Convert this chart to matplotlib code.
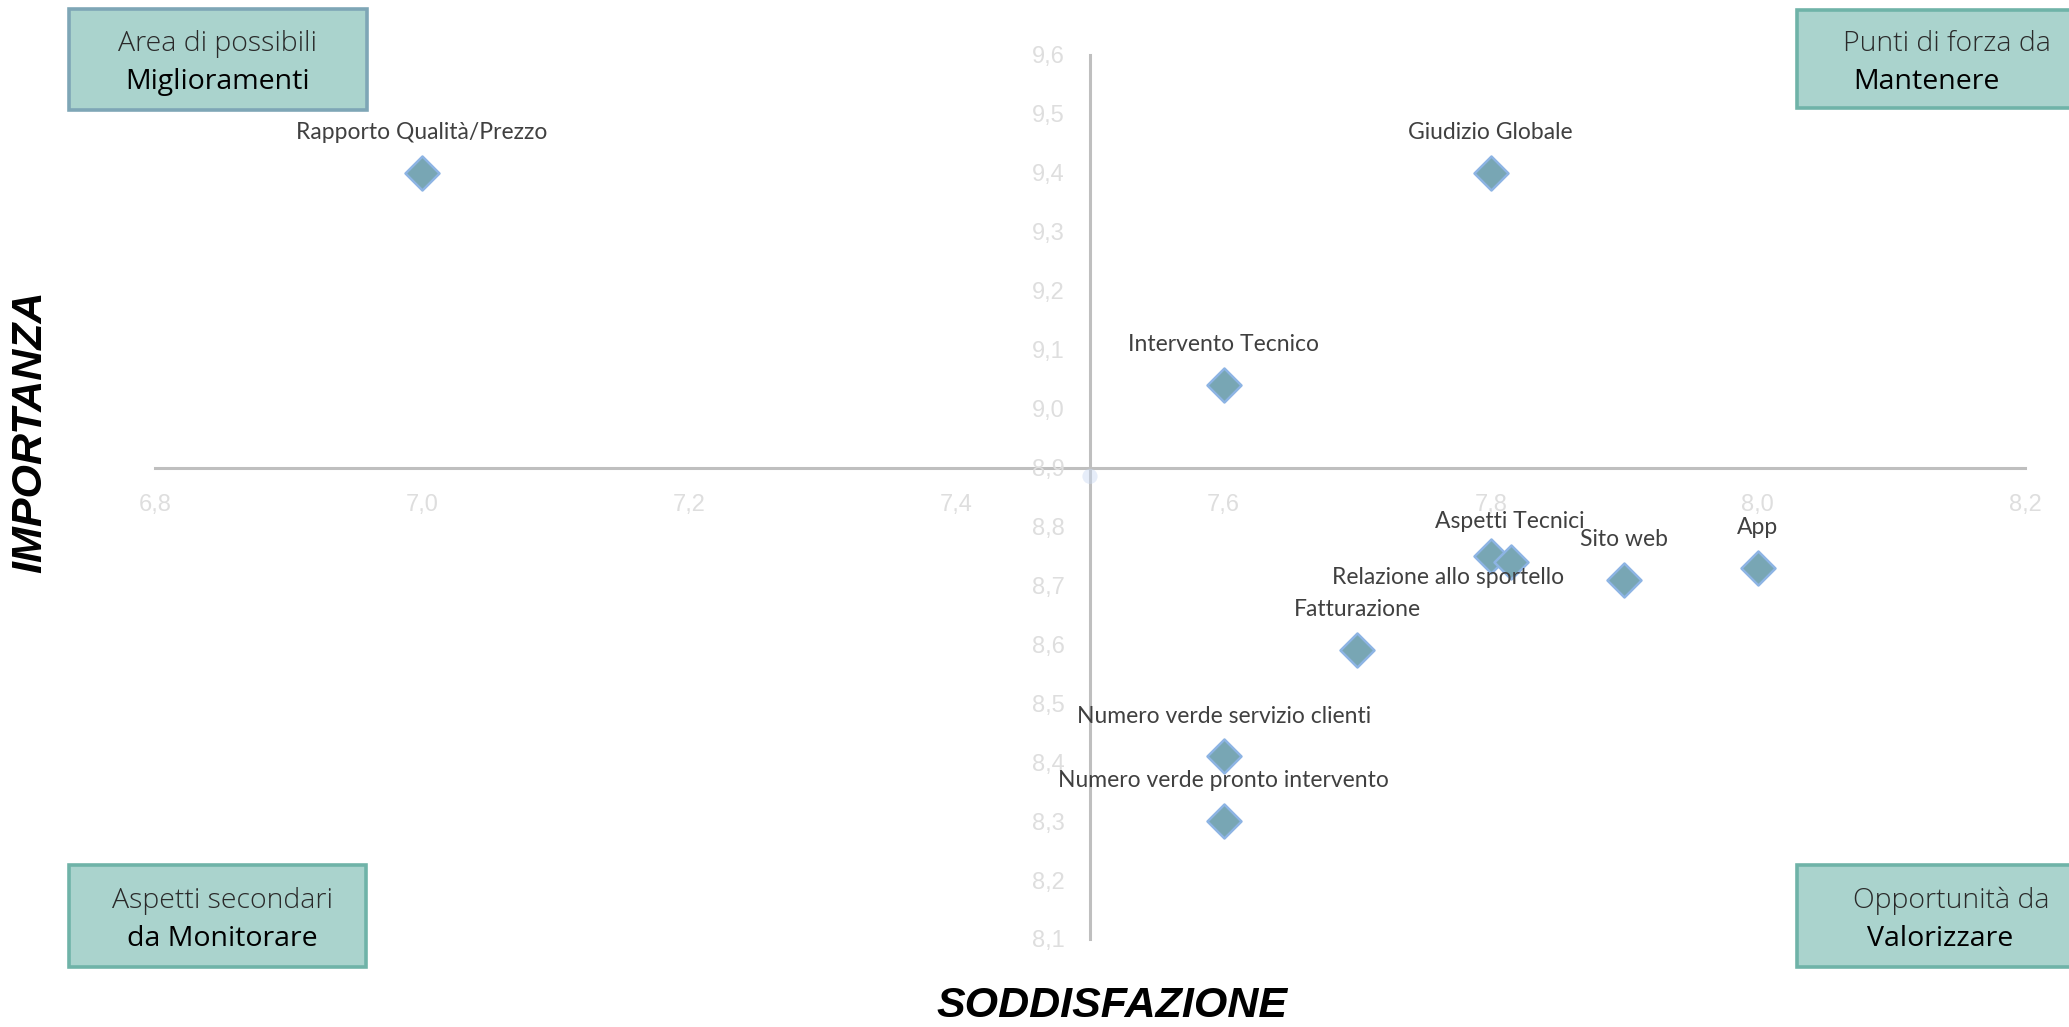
import matplotlib
matplotlib.use("Agg")
import matplotlib.pyplot as plt
from matplotlib.patches import Rectangle
from matplotlib.ticker import FixedLocator, FuncFormatter

# ---- data ----
aspetti = ["Rapporto Qualità/Prezzo", "Giudizio Globale", "Intervento Tecnico",
           "Aspetti Tecnici", "Relazione allo sportello", "Sito web", "App",
           "Fatturazione", "Numero verde servizio clienti",
           "Numero verde pronto intervento"]
soddisfazione = [7.0, 7.8, 7.6, 7.8, 7.815, 7.9, 8.0, 7.7, 7.6, 7.6]
importanza = [9.40, 9.40, 9.04, 8.75, 8.74, 8.71, 8.73, 8.59, 8.41, 8.30]
# faint reference point at the axes crossing
rif_x = [7.5]
rif_y = [8.885]

x_ticks = [6.8, 7.0, 7.2, 7.4, 7.6, 7.8, 8.0, 8.2]
y_ticks = [8.1, 8.2, 8.3, 8.4, 8.5, 8.6, 8.7, 8.8, 8.9, 9.0, 9.1, 9.2, 9.3, 9.4, 9.5, 9.6]
cross_x, cross_y = 7.5, 8.9

quadranti = [("Area di possibili", "Miglioramenti"),
             ("Punti di forza da", "Mantenere"),
             ("Aspetti secondari", "da Monitorare"),
             ("Opportunità da", "Valorizzare")]

# ---- layout ----
W, H = 2069, 1027
fig = plt.figure(figsize=(W / 100, H / 100), dpi=100)

def fx(px):
    return px / W

def fy(py):
    return 1 - py / H

ax = fig.add_axes([fx(155), fy(939), fx(2025) - fx(155), fy(55) - fy(939)])
ax.set_xlim(6.8, 8.2)
ax.set_ylim(8.1, 9.6)

for s in ["top", "right"]:
    ax.spines[s].set_visible(False)
ax.spines["left"].set_position(("data", cross_x))
ax.spines["bottom"].set_position(("data", cross_y))
for s in ["left", "bottom"]:
    ax.spines[s].set_color("#bfbfbf")
    ax.spines[s].set_linewidth(2.2)
    ax.spines[s].set_zorder(1)

fmt = FuncFormatter(lambda v, p: f"{v:.1f}".replace(".", ","))
ax.xaxis.set_major_locator(FixedLocator(x_ticks))
ax.yaxis.set_major_locator(FixedLocator(y_ticks))
ax.xaxis.set_major_formatter(fmt)
ax.yaxis.set_major_formatter(fmt)
ax.tick_params(axis="both", length=0, colors="#dedede", labelsize=17)
ax.tick_params(axis="x", pad=19)
ax.tick_params(axis="y", pad=18)
for lbl in ax.get_xticklabels() + ax.get_yticklabels():
    lbl.set_family("Liberation Sans")
    lbl.set_color("#dedede")

ax.scatter(rif_x, rif_y, s=120, marker="o", color="#c9d8f2", alpha=0.45,
           edgecolors="none", zorder=2)
ax.scatter(soddisfazione, importanza, s=300, marker="D", color="#78a6b4",
           edgecolors="#8db4e4", linewidths=1.8, zorder=3)

offsets = {"Aspetti Tecnici": (14, 25), "Relazione allo sportello": (-45, -11)}
for name, xv, yv in zip(aspetti, soddisfazione, importanza):
    off = offsets.get(name, (0, 29))
    ax.annotate(name, (xv, yv), xytext=off, textcoords="offset points",
                ha="center", va="center", fontsize=16.5, color="#404040",
                family="Lato", zorder=4)

# axis titles
fig.text(fx(1112), fy(1006), "SODDISFAZIONE", ha="center", va="center",
         fontsize=31, fontweight="bold", fontstyle="italic",
         family="Liberation Sans", color="black")
fig.text(fx(30), fy(432), "IMPORTANZA", ha="center", va="center",
         rotation=90, fontsize=31, fontweight="bold", fontstyle="italic",
         family="Liberation Sans", color="black")

# quadrant boxes
boxes = [
    ((69, 9, 367, 110), "#7ea6b6", (217, 44, 82), 217),
    ((1797, 10, 2080, 108), "#6fb3a8", (1947, 44, 82), 1926),
    ((69, 865, 366, 967), "#6fb3a8", (222, 901, 939), 222),
    ((1797, 865, 2080, 967), "#6fb3a8", (1951, 901, 939), 1940),
]
for ((x0, y0, x1, y1), ec, (cx, l1y, l2y), cx2), (t1, t2) in zip(boxes, quadranti):
    rect = Rectangle((fx(x0), fy(y1)), fx(x1) - fx(x0), fy(y0) - fy(y1),
                     transform=fig.transFigure, facecolor="#aad3cd",
                     edgecolor=ec, linewidth=2.6, zorder=5)
    fig.add_artist(rect)
    fig.text(fx(cx), fy(l1y), t1, ha="center", va="center", fontsize=20.5,
             color="#2a2a2a", family="Open Sans", fontweight="light", zorder=6)
    fig.text(fx(cx2), fy(l2y), t2, ha="center", va="center", fontsize=20.5,
             color="black", family="Open Sans", zorder=6)

fig.savefig("out.png", dpi=100, facecolor="white")
